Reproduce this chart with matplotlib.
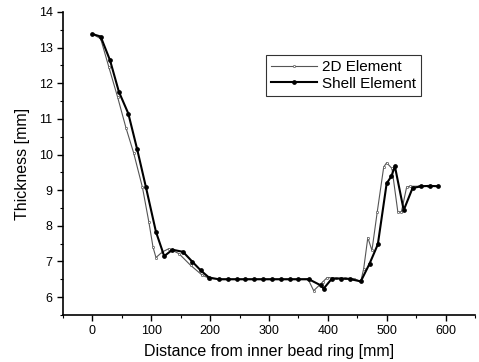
import matplotlib
matplotlib.use("Agg")
import matplotlib.pyplot as plt
from matplotlib.ticker import MultipleLocator

plt.rcParams['font.family'] = ['Liberation Sans', 'DejaVu Sans']

# 2D element (thin line, open markers)
x_2d = [0, 14, 28, 43, 57, 70, 85, 96, 103, 108, 119, 130, 147, 167, 187, 200,
        215, 230, 245, 260, 275, 290, 305, 320, 335, 350, 366, 376, 391, 399,
        414, 429, 444, 456, 461, 468, 475, 484, 495, 500, 509, 519, 525, 534,
        540, 555, 570, 588]
y_2d = [13.38, 13.25, 12.45, 11.6, 10.75, 10.05, 9.08, 8.1, 7.4, 7.11, 7.27, 7.36, 7.22, 6.89, 6.61, 6.52,
        6.51, 6.51, 6.51, 6.51, 6.51, 6.51, 6.51, 6.51, 6.51, 6.51, 6.52, 6.18, 6.42, 6.55,
        6.53, 6.53, 6.52, 6.44, 6.8, 7.67, 7.31, 8.39, 9.65, 9.77, 9.61, 8.39, 8.39, 9.09,
        9.11, 9.11, 9.12, 9.11]

# Shell element (thick line, filled markers)
x_shell = [0, 14, 30, 45, 61, 76, 91, 108, 122, 136, 154, 170, 184, 198, 215,
           230, 245, 260, 275, 290, 305, 320, 335, 350, 368, 388, 393, 407,
           422, 437, 456, 471, 485, 500, 508, 514, 529, 544, 559, 573, 588]
y_shell = [13.38, 13.31, 12.64, 11.76, 11.15, 10.15, 9.08, 7.83, 7.15, 7.33, 7.27, 6.99, 6.75, 6.55, 6.5,
           6.5, 6.5, 6.5, 6.5, 6.5, 6.5, 6.5, 6.5, 6.5, 6.5, 6.33, 6.24, 6.52,
           6.52, 6.51, 6.44, 6.94, 7.48, 9.19, 9.39, 9.67, 8.44, 9.06, 9.11, 9.12, 9.11]

fig = plt.figure(figsize=(4.79, 3.62), dpi=100)
ax = fig.add_axes([0.1315, 0.130, 0.86, 0.837])

ax.plot(x_2d, y_2d, color='#555555', lw=0.8, marker='o', ms=1.6,
        mfc='white', mec='#555555', mew=0.5, label='2D Element')
ax.plot(x_shell, y_shell, color='black', lw=1.5, marker='o', ms=2.4,
        mfc='black', mec='black', label='Shell Element')

ax.set_xlim(-50, 650)
ax.set_ylim(5.5, 14)
ax.xaxis.set_major_locator(MultipleLocator(100))
ax.xaxis.set_minor_locator(MultipleLocator(50))
ax.yaxis.set_major_locator(MultipleLocator(1))
ax.yaxis.set_minor_locator(MultipleLocator(0.5))

for s in ['top', 'right']:
    ax.spines[s].set_visible(False)
for s in ['left', 'bottom']:
    ax.spines[s].set_linewidth(1.2)

ax.tick_params(which='major', direction='out', length=4, width=1, labelsize=9)
ax.tick_params(which='minor', direction='out', length=2.5, width=0.8)

ax.set_xlabel('Distance from inner bead ring [mm]', fontsize=11.5, labelpad=5)
ax.set_ylabel('Thickness [mm]', fontsize=11.5, labelpad=6)

leg = ax.legend(loc='upper left', bbox_to_anchor=(0.493, 0.858), fontsize=11,
                frameon=True, fancybox=False, edgecolor='black',
                handlelength=3.0, handletextpad=0.3, borderpad=0.35,
                labelspacing=0.15, borderaxespad=0)
leg.get_frame().set_linewidth(0.8)

fig.savefig('out.png', dpi=100)
